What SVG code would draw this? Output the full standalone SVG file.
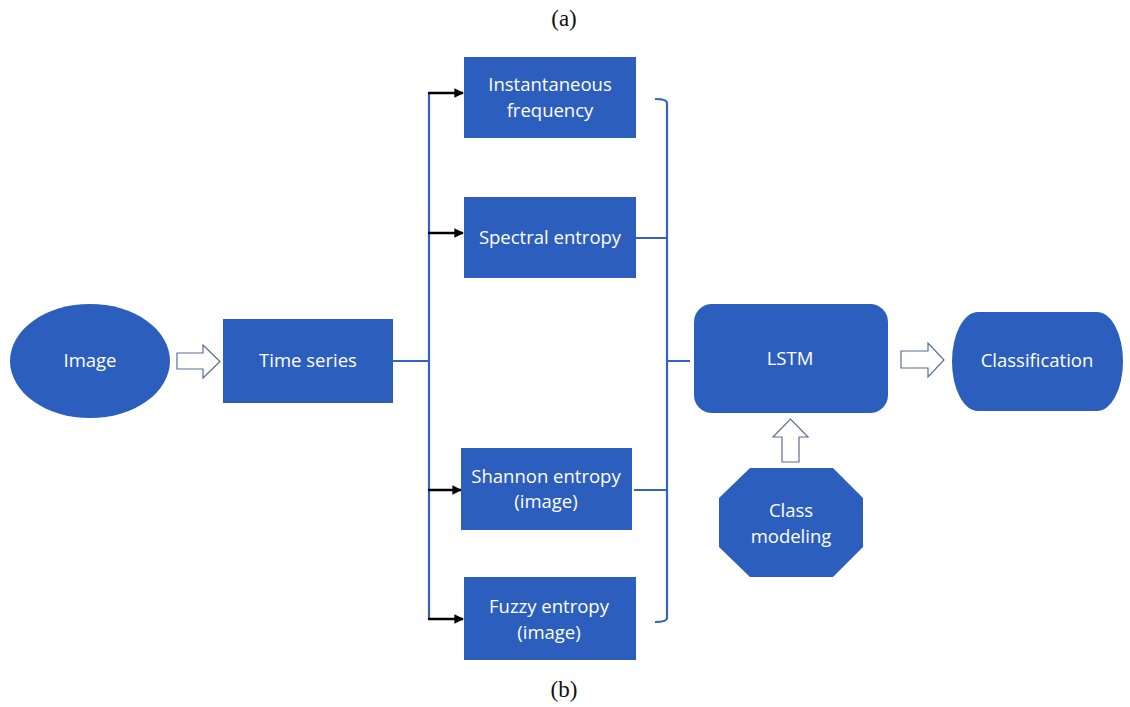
<svg xmlns="http://www.w3.org/2000/svg" width="1130" height="707" viewBox="0 0 1130 707">
  <style>
    .box { fill: #2C5EBE; }
    .lbl { fill: #ffffff; font-family: "Open Sans", "Liberation Sans", sans-serif; font-size: 18.5px; text-anchor: middle; }
    .cap { fill: #111111; font-family: "Liberation Serif", "DejaVu Serif", serif; font-size: 23px; text-anchor: middle; }
    .bus { fill: none; stroke: #3563C0; stroke-width: 2.2; }
    .feed { fill: none; stroke: #000000; stroke-width: 2.4; marker-end: url(#tip); }
    .hollow { fill: #ffffff; stroke: #5A6E90; stroke-width: 1.2; }
  </style>
  <defs>
    <marker id="tip" viewBox="0 0 10 10" refX="9" refY="5" markerWidth="4" markerHeight="4.2" orient="auto" markerUnits="strokeWidth">
      <path d="M0,0 L10,5 L0,10 z" fill="#000000"/>
    </marker>
  </defs>
  <rect width="1130" height="707" fill="#ffffff"/>

  <text class="cap" x="564" y="26">(a)</text>
  <text class="cap" x="564" y="697">(b)</text>

  <!-- connectors -->
  <g id="connectors">
    <!-- Time series to the feature bus -->
    <path class="bus" d="M393,361 H429 M429,93 V619"/>
    <line class="feed" x1="428" y1="93" x2="463" y2="93"/>
    <line class="feed" x1="428" y1="233" x2="463" y2="233"/>
    <line class="feed" x1="428" y1="490" x2="461" y2="490"/>
    <line class="feed" x1="428" y1="619" x2="463" y2="619"/>
    <!-- feature bracket into LSTM -->
    <path class="bus" d="M655,99 Q667,99 667,103 V618 Q667,622 655,622"/>
    <path class="bus" d="M636,238 H667 M634,490 H667 M667,361 H690"/>
    <!-- hollow block arrows -->
    <path class="hollow" d="M177,353 H203 V345 L220,361.5 L203,378 V369 H177 Z"/>
    <path class="hollow" d="M901,351 H928 V343 L944,360 L928,377 V368 H901 Z"/>
    <path class="hollow" d="M782,462 V437 H773 L790.5,419 L808,437 H799 V462 Z"/>
  </g>

  <g id="image">
    <ellipse class="box" cx="90" cy="361" rx="80" ry="57"/>
    <text class="lbl" x="90" y="367">Image</text>
  </g>
  <g id="time-series">
    <rect class="box" x="223" y="319" width="170" height="84"/>
    <text class="lbl" x="308" y="367">Time series</text>
  </g>
  <g id="instantaneous-frequency">
    <rect class="box" x="464" y="57" width="172" height="81"/>
    <text class="lbl" x="550" y="91">Instantaneous</text>
    <text class="lbl" x="550" y="117">frequency</text>
  </g>
  <g id="spectral-entropy">
    <rect class="box" x="464" y="197" width="172" height="81"/>
    <text class="lbl" x="550" y="244">Spectral entropy</text>
  </g>
  <g id="shannon-entropy">
    <rect class="box" x="461" y="448" width="171" height="82"/>
    <text class="lbl" x="546" y="483">Shannon entropy</text>
    <text class="lbl" x="546" y="508">(image)</text>
  </g>
  <g id="fuzzy-entropy">
    <rect class="box" x="464" y="577" width="172" height="83"/>
    <text class="lbl" x="549" y="613">Fuzzy entropy</text>
    <text class="lbl" x="549" y="639">(image)</text>
  </g>
  <g id="lstm">
    <rect class="box" x="694" y="304" width="194" height="109" rx="18" ry="18"/>
    <text class="lbl" x="790" y="365">LSTM</text>
  </g>
  <g id="classification">
    <rect class="box" x="952" y="312" width="171" height="99" rx="26" ry="50"/>
    <text class="lbl" x="1037" y="367">Classification</text>
  </g>
  <g id="class-modeling">
    <polygon class="box" points="750,468 833,468 863,498 863,547 833,577 750,577 719,547 719,498"/>
    <text class="lbl" x="791" y="517">Class</text>
    <text class="lbl" x="791" y="543">modeling</text>
  </g>
</svg>
